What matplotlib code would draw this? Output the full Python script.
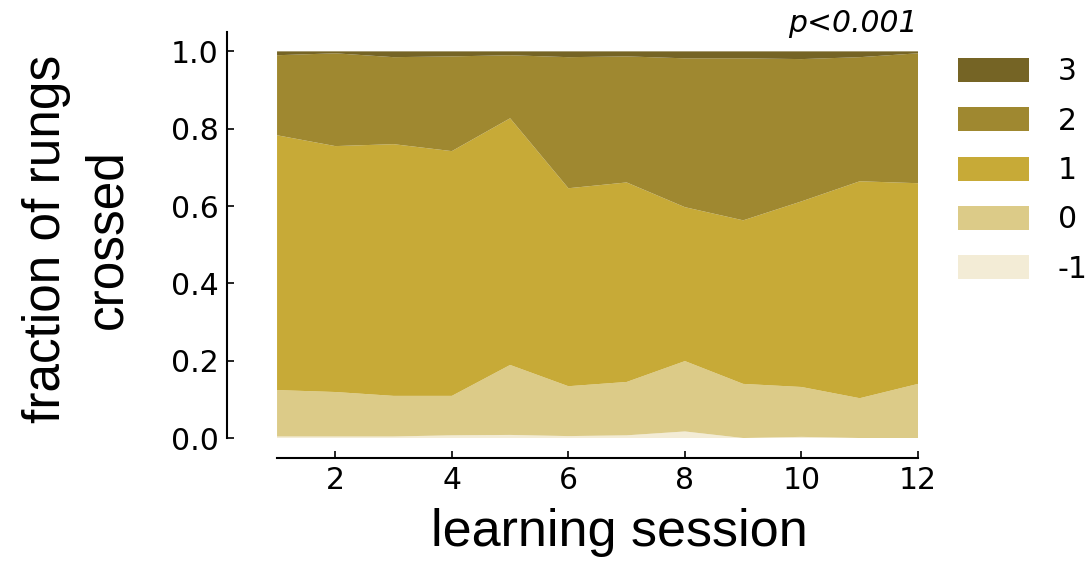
import numpy as np
import matplotlib
matplotlib.use("Agg")
import matplotlib.pyplot as plt

# learning sessions
sessions = np.arange(1, 13)

# fraction of rungs crossed per category (stacked, bottom to top)
frac_m1 = [0.004, 0.004, 0.004, 0.007, 0.008, 0.005, 0.007, 0.017, 0.000, 0.003, 0.000, 0.000]
frac_0 = [0.120, 0.115, 0.105, 0.102, 0.181, 0.129, 0.138, 0.182, 0.140, 0.129, 0.103, 0.140]
frac_1 = [0.659, 0.636, 0.651, 0.633, 0.638, 0.512, 0.516, 0.398, 0.423, 0.480, 0.561, 0.519]
frac_2 = [0.207, 0.240, 0.225, 0.245, 0.163, 0.339, 0.326, 0.385, 0.419, 0.368, 0.321, 0.336]
frac_3 = [0.010, 0.005, 0.015, 0.013, 0.010, 0.015, 0.013, 0.018, 0.018, 0.020, 0.015, 0.005]

labels = ['-1', '0', '1', '2', '3']
colors = ['#f3ecd6', '#dccb88', '#c7aa37', '#9f8830', '#756425']

fig = plt.figure(figsize=(10.89, 5.62), dpi=100)
ax = fig.add_axes([0.2544, 0.2206, 0.5886, 0.7224])

polys = ax.stackplot(sessions, frac_m1, frac_0, frac_1, frac_2, frac_3,
                     colors=colors, labels=labels, linewidth=0)

ax.set_xlim(1, 12)
ax.set_ylim(0, 1.05)
ax.set_xticks([2, 4, 6, 8, 10, 12])
ax.set_yticks([0.0, 0.2, 0.4, 0.6, 0.8, 1.0])
ax.set_yticklabels(['0.0', '0.2', '0.4', '0.6', '0.8', '1.0'])

ax.spines['top'].set_visible(False)
ax.spines['right'].set_visible(False)
ax.spines['left'].set_position(('outward', 36))
ax.spines['bottom'].set_position(('outward', 14.5))
ax.spines['left'].set_linewidth(1.5)
ax.spines['bottom'].set_linewidth(1.5)
ax.tick_params(direction='in', length=5, width=1.2, labelsize=21.5, pad=6)

lab_font = 'Liberation Sans'
ax.set_xlabel('learning session', fontsize=37.5, family=lab_font)
ax.xaxis.set_label_coords(0.534, -0.172)
ax.set_ylabel('fraction of rungs\ncrossed', fontsize=37, family=lab_font,
              linespacing=1.35)
ax.yaxis.set_label_coords(-0.225, 0.49)

ax.text(1.0, 0.985, 'p<0.001', transform=ax.transAxes, ha='right', va='bottom',
        fontsize=21.5, style='italic')

handles, labs = ax.get_legend_handles_labels()
leg = ax.legend(handles[::-1], labs[::-1], loc='upper left', bbox_to_anchor=(1.043, 0.967),
                frameon=False, fontsize=21.5, handlelength=2.4, handleheight=0.85,
                labelspacing=0.68, handletextpad=0.95, borderaxespad=0)

fig.savefig('out.png', dpi=100)
